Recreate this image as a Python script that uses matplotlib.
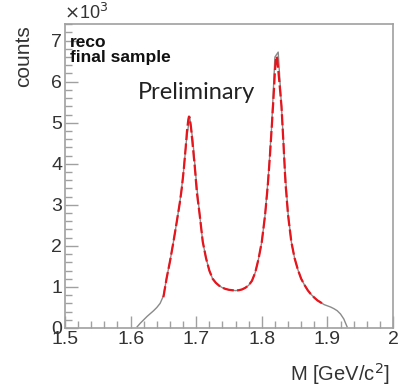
import matplotlib
matplotlib.use('Agg')
import matplotlib.pyplot as plt
from matplotlib.ticker import MultipleLocator

# grey histogram (bin centres, counts in units of 10^3)
hist_x = [1.610, 1.615, 1.620, 1.625, 1.630, 1.635, 1.640, 1.645, 1.650, 1.655,
          1.660, 1.665, 1.670, 1.675, 1.680, 1.685, 1.690, 1.695, 1.700, 1.705,
          1.710, 1.715, 1.720, 1.725, 1.730, 1.735, 1.740, 1.745, 1.750, 1.755,
          1.760, 1.765, 1.770, 1.775, 1.780, 1.785, 1.790, 1.795, 1.800, 1.805,
          1.810, 1.815, 1.820, 1.825, 1.830, 1.835, 1.840, 1.845, 1.850, 1.855,
          1.860, 1.865, 1.870, 1.875, 1.880, 1.885, 1.890, 1.895, 1.900, 1.905,
          1.910, 1.915, 1.920, 1.925, 1.930]
hist_y = [0.03, 0.12, 0.20, 0.28, 0.35, 0.42, 0.50, 0.60, 0.78, 1.22,
          1.62, 2.07, 2.55, 3.05, 3.70, 4.55, 5.15, 4.55, 3.60, 2.80,
          2.10, 1.70, 1.40, 1.20, 1.10, 1.03, 0.98, 0.95, 0.93, 0.92,
          0.91, 0.92, 0.94, 0.98, 1.04, 1.15, 1.35, 1.68, 2.10, 2.75,
          3.70, 4.90, 6.60, 6.72, 5.40, 3.95, 2.80, 2.10, 1.70, 1.42,
          1.20, 1.05, 0.92, 0.82, 0.74, 0.67, 0.62, 0.57, 0.54, 0.51,
          0.47, 0.42, 0.34, 0.22, 0.03]

# red fit curve
fit_x = [1.650, 1.655, 1.660, 1.665, 1.670, 1.675, 1.678, 1.681, 1.684, 1.686,
         1.688, 1.689, 1.690, 1.692, 1.695, 1.698, 1.701, 1.705, 1.710, 1.715,
         1.720, 1.725, 1.730, 1.735, 1.740, 1.745, 1.750, 1.755, 1.760, 1.765,
         1.770, 1.775, 1.780, 1.785, 1.790, 1.795, 1.800, 1.805, 1.809, 1.812,
         1.815, 1.818, 1.820, 1.8215, 1.8225, 1.8235, 1.825, 1.827, 1.830, 1.833,
         1.836, 1.840, 1.845, 1.850, 1.855, 1.860, 1.865, 1.870, 1.875, 1.880,
         1.885, 1.892]
fit_y = [0.75, 1.22, 1.62, 2.07, 2.55, 3.05, 3.40, 3.85, 4.40, 4.80,
         5.08, 5.15, 5.12, 4.90, 4.40, 3.90, 3.30, 2.80, 2.10, 1.70,
         1.40, 1.20, 1.10, 1.03, 0.98, 0.95, 0.93, 0.92, 0.91, 0.92,
         0.94, 0.98, 1.04, 1.15, 1.35, 1.68, 2.10, 2.75, 3.45, 4.10,
         4.85, 5.65, 6.25, 6.55, 6.62, 6.55, 6.30, 5.95, 5.40, 4.50,
         3.55, 2.75, 2.10, 1.70, 1.42, 1.20, 1.05, 0.92, 0.82, 0.74,
         0.67, 0.60]

frame = '#a0a0a0'
txt = '#333333'

fig = plt.figure(figsize=(4.0, 3.9), dpi=100)
ax = fig.add_axes([0.1625, 0.159, 0.82, 0.779])

ax.plot(hist_x, hist_y, color='#8a8a8a', lw=1.0)
ax.plot(fit_x, fit_y, color='#e8141c', lw=1.6, ls=(0, (5, 1.5)))

ax.set_xlim(1.5, 2.0)
ax.set_ylim(0, 7.4)
ax.xaxis.set_major_locator(MultipleLocator(0.1))
ax.xaxis.set_minor_locator(MultipleLocator(0.02))
ax.yaxis.set_major_locator(MultipleLocator(1))
ax.yaxis.set_minor_locator(MultipleLocator(0.2))
ax.set_xticks([1.5, 1.6, 1.7, 1.8, 1.9, 2.0])
ax.set_xticklabels(['1.5', '1.6', '1.7', '1.8', '1.9', '2'])

for s in ax.spines.values():
    s.set_color(frame)
    s.set_linewidth(1.2)

ax.tick_params(which='both', direction='in', color=frame, top=False, right=False,
               labelcolor=txt, labelsize=14, width=1.0)
ax.tick_params(which='major', length=9, pad=2)
ax.tick_params(which='minor', length=5)
for lab in ax.get_xticklabels() + ax.get_yticklabels():
    lab.set_family('Liberation Sans')

fig.text(0.975, 0.04, 'M [GeV/c$^2$]', ha='right', va='center', fontsize=14.5,
         color=txt, family='Liberation Sans')
fig.text(0.06, 0.935, 'counts', ha='center', va='top', rotation=90, fontsize=15,
         color=txt, family='Liberation Sans')
fig.text(0.16, 0.968, r'$\times$10$^3$', ha='left', va='center', fontsize=13,
         color=txt, family='Liberation Sans')

ax.text(0.015, 0.965, 'reco\nfinal sample', transform=ax.transAxes, ha='left',
        va='top', fontsize=12.5, fontweight='bold', color='#111111',
        family='Liberation Sans', linespacing=1.0)
ax.text(0.40, 0.776, 'Preliminary', transform=ax.transAxes, ha='center',
        va='center', fontsize=17, color='#222222', family='Lato')

fig.savefig('out.png', dpi=100)
